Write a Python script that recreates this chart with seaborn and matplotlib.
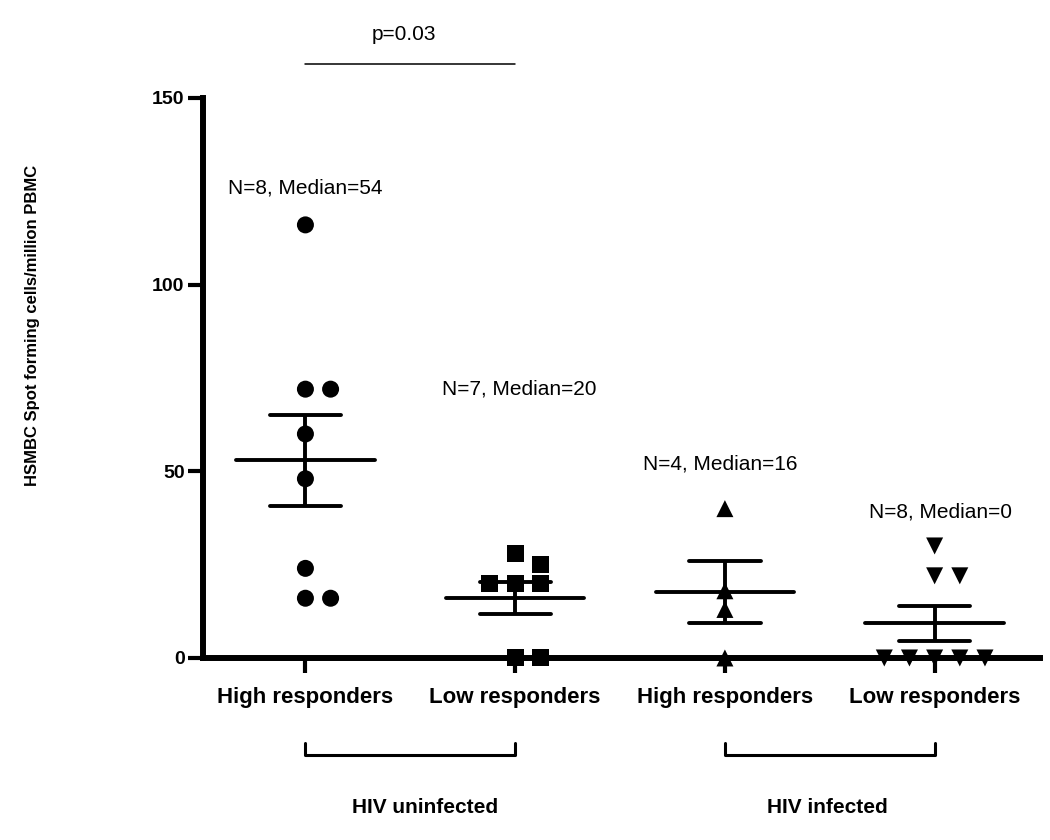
import seaborn as sns
import matplotlib.pyplot as plt
import numpy as np
import pandas as pd

# values (spot forming cells / million PBMC)
groups = ['High responders', 'Low responders', 'High responders ', 'Low responders ']
uninf_high = [116, 72, 72, 60, 48, 24, 16, 16]
uninf_low = [28, 25, 20, 20, 20, 0, 0]
inf_high = [40, 18, 13, 0]
inf_low = [30, 22, 22, 0, 0, 0, 0, 0]
markers = ['o', 's', '^', 'v']
notes = ['N=8, Median=54', 'N=7, Median=20', 'N=4, Median=16', 'N=8, Median=0']
note_y = [126, 72, 52, 39]
cohorts = ['HIV uninfected', 'HIV infected']
p_text = 'p=0.03'

df = pd.DataFrame({
    'group': np.repeat(groups, [len(uninf_high), len(uninf_low), len(inf_high), len(inf_low)]),
    'value': uninf_high + uninf_low + inf_high + inf_low,
})
df['pos'] = df['group'].map({g: i for i, g in enumerate(groups)})

# spread near-equal values side by side, column-scatter style
def spread(vals, tol=4):
    out = np.zeros(len(vals))
    order = np.argsort(-vals.values, kind='stable')
    clusters, cur, start = [], [], None
    for i in order:
        if start is None or start - vals.values[i] > tol:
            if cur:
                clusters.append(cur)
            cur, start = [i], vals.values[i]
        else:
            cur.append(i)
    clusters.append(cur)
    for c in clusters:
        for r, i in enumerate(c):
            out[i] = r - (len(c) - 1) // 2
    return pd.Series(out, index=vals.index)

df['x'] = df['pos'] + df.groupby('group')['value'].transform(spread) * 0.12

sns.set_style('ticks')
plt.rcParams['font.family'] = ['Liberation Sans', 'DejaVu Sans']
plt.rcParams['text.color'] = 'black'
plt.rcParams['xtick.color'] = 'black'
plt.rcParams['ytick.color'] = 'black'

fig = plt.figure(figsize=(10.5, 8.4), dpi=100)
ax = fig.add_axes([0.193, 0.2167, 0.797, 0.6667])

sns.scatterplot(data=df, x='x', y='value', style='group', markers=dict(zip(groups, markers)),
                color='black', s=150, linewidth=0, legend=False, zorder=4, clip_on=False, ax=ax)

# mean +/- SEM
stats = df.groupby('group', sort=False)['value'].agg(['mean', 'sem']).reindex(groups)
xs = np.arange(len(groups))
ax.hlines(stats['mean'], xs - 0.33, xs + 0.33, color='black', lw=2.8, zorder=5, capstyle='round')
ax.vlines(xs, stats['mean'] - stats['sem'], stats['mean'] + stats['sem'], color='black', lw=2.8, zorder=5)
ax.hlines(stats['mean'] + stats['sem'], xs - 0.17, xs + 0.17, color='black', lw=2.8, zorder=5, capstyle='round')
ax.hlines(stats['mean'] - stats['sem'], xs - 0.17, xs + 0.17, color='black', lw=2.8, zorder=5, capstyle='round')

ax.set_xlim(-0.49, 3.5)
ax.set_ylim(0, 150)
ax.set_yticks([0, 50, 100, 150])
ax.set_xlabel('')
ax.set_ylabel('')
ax.set_xticks(xs)
ax.set_xticklabels([g.strip() for g in groups], fontsize=16, fontweight='bold')
for lab in ax.get_yticklabels():
    lab.set_fontsize(14)
    lab.set_fontweight('bold')

for s in ['top', 'right']:
    ax.spines[s].set_visible(False)
for s in ['left', 'bottom']:
    ax.spines[s].set_linewidth(4.3)
    ax.spines[s].set_color('black')
ax.tick_params(axis='x', direction='out', length=11, width=3, pad=10)
ax.tick_params(axis='y', direction='out', length=11, width=3, pad=2)

# annotations
for x, t, y in zip([0, 1.02, 1.98, 3.03], notes, note_y):
    ax.text(x, y, t, ha='center', va='center', fontsize=15)

ax.plot([0, 1], [159, 159], color='black', lw=1.1, clip_on=False)
ax.text(0.47, 167, p_text, ha='center', va='center', fontsize=15)

# cohort brackets below the axis
for i, (name, lx) in enumerate(zip(cohorts, [0.57, 2.49])):
    x0, x1 = 2 * i, 2 * i + 1
    ax.plot([x0, x0, x1, x1], [-22.8, -26, -26, -22.8], color='black', lw=2.2, clip_on=False)
    ax.text(lx, -40, name, ha='center', va='center', fontsize=15, fontweight='bold')

fig.text(0.031, 1 - 325 / 840, 'HSMBC Spot forming cells/million PBMC', rotation=90,
         ha='center', va='center', fontsize=12, fontweight='bold')

fig.savefig('out.png', dpi=100)
